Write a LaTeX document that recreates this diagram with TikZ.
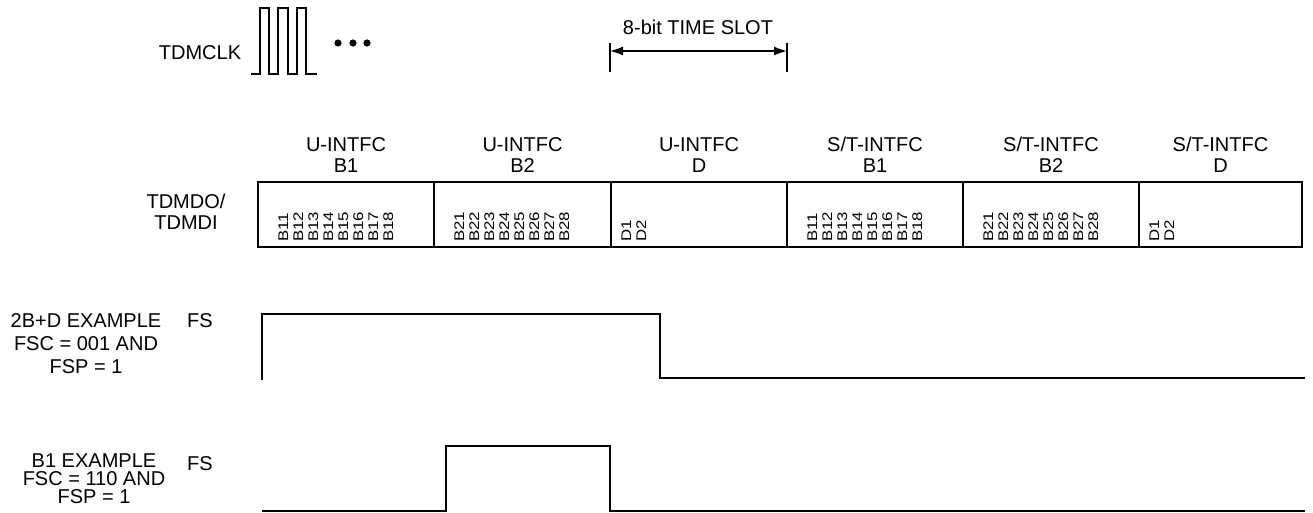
\documentclass[tikz,border=0pt]{standalone}
\usepackage{fontspec}
\setmainfont{Liberation Sans}
\newfontfamily\bitfont[FakeStretch=1.2]{Liberation Sans}
\usetikzlibrary{arrows.meta}

\begin{document}
\begin{tikzpicture}[x=1pt, y=1pt,
    lbl/.style={font=\fontsize{20}{20.5}\selectfont, align=center, inner sep=0pt},
    bit/.style={font=\bitfont\fontsize{14}{14}\selectfont, rotate=90, anchor=base west, inner sep=0pt},
    wave/.style={line width=2.2pt, line join=miter}]
    \useasboundingbox (0,0) rectangle (1313,-513);

    %Nodes
    \node[lbl] at (200, -53) (clk) {TDMCLK};
    \node[lbl] at (698, -27) (slot) {8-bit TIME SLOT};
    \node[lbl] at (186, -212) (tdm) {TDMDO/\\TDMDI};

    \node[lbl] at (346, -155) (uB1) {U-INTFC\\B1};
    \node[lbl] at (522.5, -155) (uB2) {U-INTFC\\B2};
    \node[lbl] at (699, -155) (uD) {U-INTFC\\D};
    \node[lbl] at (875, -155) (stB1) {S/T-INTFC\\B1};
    \node[lbl] at (1051, -155) (stB2) {S/T-INTFC\\B2};
    \node[lbl] at (1220.5, -155) (stD) {S/T-INTFC\\D};

    \node[lbl] at (200, -321) (fsA) {FS};
    \node[lbl, font=\fontsize{20}{23}\selectfont] at (86, -344) (exA) {2B+D EXAMPLE\\FSC = 001 AND\\FSP = 1};
    \node[lbl] at (200, -464) (fsB) {FS};
    \node[lbl, font=\fontsize{20}{18}\selectfont] at (94, -479) (exB) {B1 EXAMPLE\\FSC = 110 AND\\FSP = 1};

    \coordinate (ts1) at (610, -51);
    \coordinate (ts2) at (787, -51);

    %Bits
    \foreach \sx/\pre in {258/B1, 434/B2, 787/B1, 963/B2}
        \foreach \k in {1,...,8}
            \node[bit] at (\sx+30+15*\k-15, -242) (b-\sx-\k) {\pre\k};
    \foreach \sx in {611, 1139}
        \foreach \k in {1,2}
            \node[bit] at (\sx+20+15*\k-15, -242) (d-\sx-\k) {D\k};

    %Lines
    \draw[line width=2pt] (251, -74) -- (260, -74) -- (260, -8) -- (269, -8) -- (269, -74)
        -- (278, -74) -- (278, -8) -- (288, -8) -- (288, -74)
        -- (297, -74) -- (297, -8) -- (306, -8) -- (306, -74) -- (317, -74);
    \foreach \x in {338, 353, 367}
        \fill (\x, -43) circle (3.6);

    \draw[line width=1.2pt] (610, -43) -- (610, -72);
    \draw[line width=1.2pt] (787, -43) -- (787, -72);
    \draw[line width=1.4pt, {Latex[length=13, width=9]}-{Latex[length=13, width=9]}] (ts1) -- (ts2);

    \draw[wave] (258, -182) rectangle (1302, -247);
    \foreach \x in {434, 611, 787, 963, 1139}
        \draw[wave] (\x, -182) -- (\x, -247);

    \draw[wave] (262, -380) -- (262, -314) -- (660, -314) -- (660, -378) -- (1305, -378);
    \draw[wave] (262, -511) -- (446, -511) -- (446, -446) -- (610, -446) -- (610, -511) -- (1305, -511);

\end{tikzpicture}
\end{document}
